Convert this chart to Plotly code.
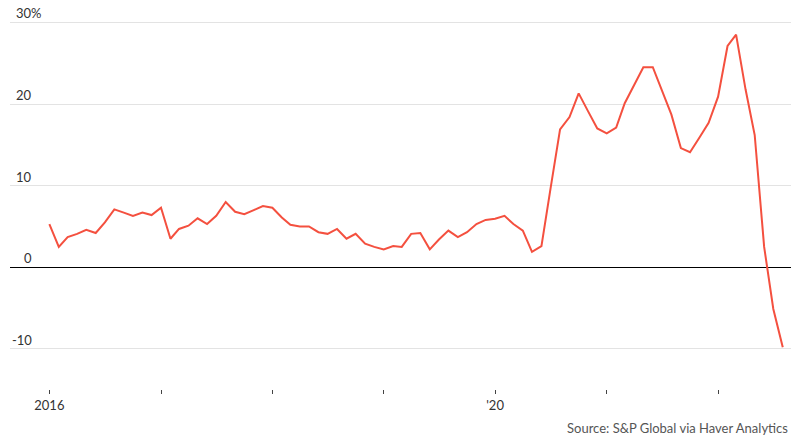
import plotly.graph_objects as go
import pandas as pd

# Monthly values, Jan 2016 - Aug 2022 (percent change)
dates = pd.date_range("2016-01-01", periods=80, freq="MS")
values = [
    5.3, 2.5, 3.7, 4.1, 4.6, 4.2, 5.5, 7.1, 6.7, 6.3, 6.7, 6.4,
    7.3, 3.5, 4.7, 5.1, 6.0, 5.3, 6.3, 8.0, 6.8, 6.5, 7.0, 7.5,
    7.3, 6.1, 5.2, 5.0, 5.0, 4.3, 4.1, 4.7, 3.5, 4.1, 2.9, 2.5,
    2.2, 2.6, 2.5, 4.1, 4.2, 2.2, 3.4, 4.5, 3.7, 4.3, 5.3, 5.8,
    5.95, 6.3, 5.3, 4.5, 1.9, 2.6, 9.7, 16.9, 18.4, 21.3, 19.1, 17.0,
    16.4, 17.1, 20.1, 22.4, 24.5, 24.5, 21.6, 18.7, 14.6, 14.1, 15.9, 17.7,
    20.9, 27.1, 28.5, 21.8, 16.2, 2.5, -5.1, -9.8,
]

x_tickvals = [f"{y}-01-01" for y in range(2016, 2023)]
x_ticktext = ["2016", "", "", "", "'20", "", ""]

y_tickvals = [-10, 0, 10, 20, 30]
y_ticktext = ["-10", "0", "10", "20", "30"]

source_text = "Source: S&P Global via Haver Analytics"

fig = go.Figure()
fig.add_trace(go.Scatter(
    x=dates, y=values, mode="lines",
    line=dict(color="#f4503f", width=2),
    hoverinfo="skip",
))

annotations = []
for v, t in zip(y_tickvals, y_ticktext):
    annotations.append(dict(
        x=0, xref="paper", y=v, yref="y",
        text=t, showarrow=False, xanchor="right", yanchor="bottom",
        xshift=24, yshift=-1,
        font=dict(family="Lato", size=13, color="#333333"),
    ))
    if v == max(y_tickvals):
        annotations.append(dict(
            x=0, xref="paper", y=v, yref="y",
            text="%", showarrow=False, xanchor="left", yanchor="bottom",
            xshift=19, yshift=-1,
            font=dict(family="Lato", size=13, color="#333333"),
        ))

annotations.append(dict(
    x=1, xref="paper", y=0, yref="paper", yshift=-49,
    text=source_text, showarrow=False, xanchor="right", yanchor="bottom",
    xshift=-1,
    font=dict(family="Lato", size=13, color="#555555"),
))

fig.update_layout(
    width=791, height=441,
    margin=dict(l=10, r=0, t=6, b=52),
    paper_bgcolor="white", plot_bgcolor="white",
    showlegend=False,
    annotations=annotations,
    xaxis=dict(
        type="date",
        range=["2015-08-25", "2022-08-28"],
        tickvals=x_tickvals, ticktext=x_ticktext,
        ticks="outside", ticklen=4, tickwidth=1, tickcolor="#444444",
        showgrid=False, showline=False, zeroline=False,
        tickfont=dict(family="Lato", size=13, color="#333333"),
    ),
    yaxis=dict(
        range=[-14.9, 32.0],
        tickvals=y_tickvals, showticklabels=False,
        showgrid=True, gridcolor="#e3e3e3", gridwidth=1,
        zeroline=True, zerolinecolor="#000000", zerolinewidth=1,
        ticks="",
    ),
)

fig.write_html(
    "out.html",
    config={"displayModeBar": False},
    post_script="document.body.style.margin='0';document.body.style.overflow='hidden';",
)
